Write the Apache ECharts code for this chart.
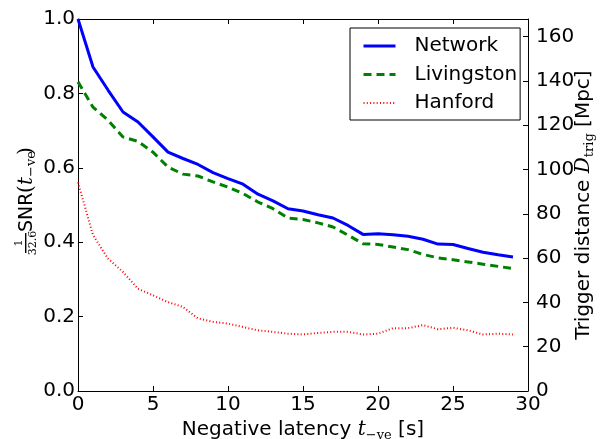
<!DOCTYPE html>
<html>
<head>
<meta charset="utf-8">
<script src="https://cdn.jsdelivr.net/npm/echarts@6/dist/echarts.min.js"></script>
<style>
  html, body { margin: 0; padding: 0; background: #fff; }
  #chart { width: 608px; height: 439px; }
</style>
</head>
<body>
<div id="chart"></div>
<script>
// negative latency in seconds
const latency = [0, 1, 2, 3, 4, 5, 6, 7, 8, 9, 10, 11, 12, 13, 14, 15, 16, 17, 18, 19, 20, 21, 22, 23, 24, 25, 26, 27, 28, 29]

// SNR / 32.6
const network = [1.000, 0.871, 0.809, 0.750, 0.723, 0.683, 0.642, 0.625, 0.609, 0.587, 0.571, 0.556, 0.529, 0.511, 0.490,
  0.484, 0.474, 0.465, 0.445, 0.421, 0.423, 0.420, 0.416, 0.408, 0.395, 0.394, 0.383, 0.373, 0.366, 0.360]
const livingston = [0.831, 0.763, 0.728, 0.683, 0.671, 0.642, 0.602, 0.583, 0.578, 0.562, 0.548, 0.531, 0.508, 0.490, 0.465,
  0.461, 0.452, 0.441, 0.419, 0.396, 0.394, 0.387, 0.380, 0.367, 0.358, 0.353, 0.347, 0.341, 0.335, 0.329]
const hanford = [0.561, 0.419, 0.356, 0.320, 0.275, 0.257, 0.239, 0.226, 0.195, 0.186, 0.181, 0.172, 0.163, 0.159, 0.154,
  0.152, 0.156, 0.159, 0.159, 0.152, 0.154, 0.169, 0.169, 0.177, 0.166, 0.170, 0.163, 0.152, 0.154, 0.152]

const seriesNames = ['Network', 'Livingston', 'Hanford']

// right axis: trigger distance in Mpc
const distanceMax = 168

const sans = '"DejaVu Sans", sans-serif'
const serif = '"DejaVu Serif", serif'

const pairs = (ys) => latency.map((x, i) => [x, ys[i]])

const tickStyle = { show: true, inside: true, length: 5, lineStyle: { color: '#000', width: 1 } }
const lineStyle = { show: true, onZero: false, lineStyle: { color: '#000', width: 1 } }

const chart = echarts.init(document.getElementById('chart'), null, { renderer: 'canvas' })

chart.setOption({
  animation: false,
  backgroundColor: '#fff',
  textStyle: { fontFamily: sans },
  grid: { left: 78, right: 80, top: 19, bottom: 48, containLabel: false, outerBoundsMode: 'none' },
  legend: {
    data: seriesNames,
    orient: 'vertical',
    left: 350,
    top: 28,
    padding: [8, 3, 7, 12],
    itemGap: 8.5,
    itemWidth: 32,
    itemHeight: 14,
    itemStyle: { opacity: 0 },
    lineStyle: { width: 'inherit' },
    borderColor: '#000',
    borderWidth: 1,
    borderRadius: 0,
    backgroundColor: '#fff',
    textStyle: { fontFamily: sans, fontSize: 20, color: '#000', lineHeight: 20, padding: [0, 0, 0, 14] },
  },
  xAxis: [
    {
      type: 'value',
      min: 0,
      max: 30,
      interval: 5,
      position: 'bottom',
      axisLine: lineStyle,
      axisTick: tickStyle,
      splitLine: { show: false },
      axisLabel: { color: '#000', fontSize: 20, fontFamily: sans, margin: 4 },
      name: '{a|Negative latency }{t|t}{s|−ve}{a| [s]}',
      nameLocation: 'middle',
      nameGap: 23,
      nameTextStyle: {
        rich: {
          a: { fontFamily: sans, fontSize: 20, color: '#000', lineHeight: 24 },
          t: { fontFamily: serif, fontStyle: 'italic', fontSize: 20, color: '#000', lineHeight: 24 },
          s: { fontFamily: serif, fontSize: 13, color: '#000', lineHeight: 13, verticalAlign: 'bottom' },
        },
      },
    },
    {
      type: 'value',
      min: 0,
      max: 30,
      interval: 5,
      position: 'top',
      axisLine: lineStyle,
      axisTick: tickStyle,
      splitLine: { show: false },
      axisLabel: { show: false },
    },
  ],
  yAxis: [
    {
      type: 'value',
      min: 0,
      max: 1,
      interval: 0.2,
      position: 'left',
      axisLine: lineStyle,
      axisTick: tickStyle,
      splitLine: { show: false },
      axisLabel: {
        color: '#000',
        fontSize: 20,
        fontFamily: sans,
        margin: 3,
        formatter: (v) => v.toFixed(1),
      },
    },
    {
      type: 'value',
      min: 0,
      max: distanceMax,
      interval: 20,
      position: 'right',
      axisLine: lineStyle,
      axisTick: tickStyle,
      splitLine: { show: false },
      axisLabel: {
        color: '#000',
        fontSize: 20,
        fontFamily: sans,
        margin: 8,
        showMaxLabel: false,
        formatter: (v) => (v % 20 === 0 ? String(v) : ''),
      },
      name: 'Trigger distance {d|D}{s|trig}{a| [Mpc]}',
      nameLocation: 'middle',
      nameGap: 44,
      nameMoveOverlap: false,
      nameTextStyle: {
        fontFamily: sans,
        fontSize: 20,
        color: '#000',
        lineHeight: 24,
        rich: {
          a: { fontFamily: sans, fontSize: 20, color: '#000', lineHeight: 24 },
          d: { fontFamily: serif, fontStyle: 'italic', fontSize: 20, color: '#000', lineHeight: 24 },
          s: { fontFamily: serif, fontSize: 13, color: '#000', lineHeight: 13, verticalAlign: 'bottom' },
        },
      },
    },
  ],
  graphic: [
    {
      // left axis label: 1/32.6 SNR(t_-ve)
      type: 'group',
      x: 25.7,
      y: 253,
      rotation: Math.PI / 2,
      silent: true,
      children: [
        { type: 'rect', shape: { x: 0, y: -0.7, width: 20, height: 1.4 }, style: { fill: '#000' } },
        { type: 'text', style: { text: '1', x: 10, y: -1.5, font: '11px ' + serif, fill: '#000', align: 'center', verticalAlign: 'bottom' } },
        { type: 'text', style: { text: '32.6', x: 10, y: 1.5, font: '11px ' + serif, fill: '#000', align: 'center', verticalAlign: 'top' } },
        { type: 'text', style: { text: 'SNR', x: 21, y: 1, font: '19px ' + sans, fill: '#000', align: 'left', verticalAlign: 'middle' } },
        { type: 'text', style: { text: '(', x: 60, y: 1, font: '20px ' + serif, fill: '#000', align: 'left', verticalAlign: 'middle' } },
        { type: 'text', style: { text: 't', x: 68, y: 1, font: 'italic 20px ' + serif, fill: '#000', align: 'left', verticalAlign: 'middle' } },
        { type: 'text', style: { text: '−ve', x: 76, y: 6, font: '13px ' + serif, fill: '#000', align: 'left', verticalAlign: 'middle' } },
        { type: 'text', style: { text: ')', x: 98, y: 1, font: '20px ' + serif, fill: '#000', align: 'left', verticalAlign: 'middle' } },
      ],
    },
  ],
  series: [
    {
      name: seriesNames[0],
      type: 'line',
      xAxisIndex: 0,
      yAxisIndex: 0,
      data: pairs(network),
      symbol: 'none',
      color: '#0000ff',
      lineStyle: { color: '#0000ff', width: 3 },
      z: 4,
    },
    {
      name: seriesNames[1],
      type: 'line',
      xAxisIndex: 0,
      yAxisIndex: 0,
      data: pairs(livingston),
      symbol: 'none',
      color: '#008000',
      lineStyle: { color: '#008000', width: 3, type: [8, 5], cap: 'butt' },
      z: 3,
    },
    {
      name: seriesNames[2],
      type: 'line',
      xAxisIndex: 0,
      yAxisIndex: 0,
      data: pairs(hanford),
      symbol: 'none',
      color: '#ff0000',
      lineStyle: { color: '#ff0000', width: 2, type: [1, 2.3], cap: 'butt' },
      z: 2,
    },
  ],
})
</script>
</body>
</html>
